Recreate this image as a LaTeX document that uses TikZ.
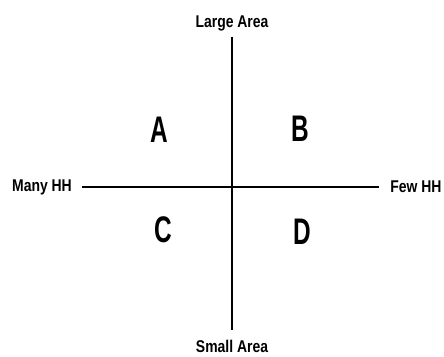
\documentclass[tikz,border=0pt]{standalone}
\usepackage{fontspec}
\setmainfont{Liberation Sans}[FakeStretch=0.82]
\newfontfamily\quadfont{Liberation Sans}[FakeStretch=0.66]
\usepackage{tikz}
\usetikzlibrary{positioning}
\tikzset{
  axislabel/.style={
    font=\fontsize{17}{19}\selectfont\bfseries,
    inner sep=0pt
  },
  quadlabel/.style={
    font=\quadfont\fontsize{37}{40}\selectfont\bfseries,
    inner sep=0pt
  },
  axisline/.style={
    line width=2pt,
    draw=black
  }
}
\begin{document}
\begin{tikzpicture}[x=1pt,y=1pt]
\useasboundingbox (0,0) rectangle (444,356);
\node[axislabel] (large) at (232,333) {Large Area};
\node[axislabel] (small) at (232,10) {Small Area};
\node[axislabel] (many) at (42,169) {Many HH};
\node[axislabel] (few) at (416,169) {Few HH};
\node[quadlabel] (qa) at (159,226) {A};
\node[quadlabel] (qb) at (300,227) {B};
\node[quadlabel] (qc) at (163,126) {C};
\node[quadlabel] (qd) at (302,124) {D};
\draw[axisline, shorten <=6pt, shorten >=10pt] (large) -- (small);
\draw[axisline, shorten <=10pt, shorten >=11pt] (many) -- (few);
\end{tikzpicture}
\end{document}
